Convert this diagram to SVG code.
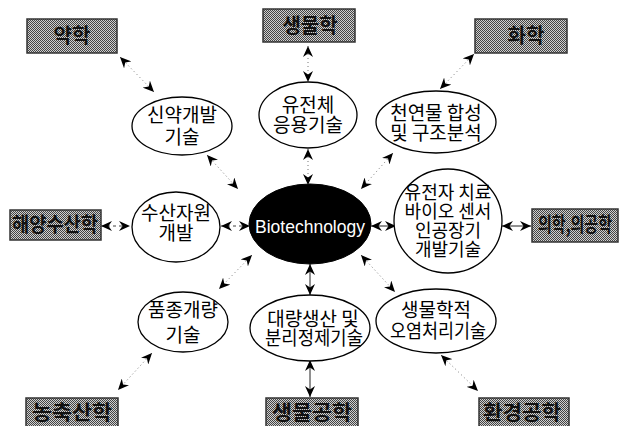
<svg xmlns="http://www.w3.org/2000/svg" width="633" height="426" viewBox="0 0 633 426">
<defs>
  <pattern id="dither" width="2" height="2" patternUnits="userSpaceOnUse">
    <rect width="2" height="2" fill="#d0d0d0"/>
    <rect x="0" y="0" width="1" height="1" fill="#444"/>
    <rect x="1" y="1" width="1" height="1" fill="#444"/>
  </pattern>
  <marker id="ah" viewBox="0 0 11 10" refX="11" refY="5" markerWidth="11" markerHeight="10" markerUnits="userSpaceOnUse" orient="auto-start-reverse">
    <path d="M0,0 L11,5 L0,10 L3.5,5 z" fill="#000"/>
  </marker>
</defs>
<style>
  .box { fill: url(#dither); stroke: #333; stroke-width: 1.5; }
  .btxt { font-family: "Noto Sans CJK KR", "Noto Sans", sans-serif; font-size: 20px; font-weight: 700; fill: #111; text-anchor: middle; }
  .ell { fill: #fff; stroke: #000; stroke-width: 1.3; }
  .etxt { font-family: "Noto Sans CJK KR", "Noto Sans", sans-serif; font-size: 19px; fill: #000; text-anchor: middle; }
  .etxs { font-family: "Noto Sans CJK KR", "Noto Sans", sans-serif; font-size: 18px; fill: #000; text-anchor: middle; }
  .dot { stroke: #777; stroke-width: 1; stroke-dasharray: 1 3; fill: none; marker-start: url(#ah); marker-end: url(#ah); }
  .sol { stroke: #222; stroke-width: 1; fill: none; marker-start: url(#ah); marker-end: url(#ah); }
  .dsh { stroke: #444; stroke-width: 1; stroke-dasharray: 3 3; fill: none; marker-start: url(#ah); marker-end: url(#ah); }
</style>
<rect width="633" height="426" fill="#fff"/>

<g id="connectors">
  <line class="dot" x1="120" y1="57" x2="154" y2="92"/>
  <line class="dot" x1="308" y1="46" x2="308" y2="82"/>
  <line class="dot" x1="474" y1="54" x2="440" y2="89"/>
  <line class="dot" x1="207" y1="155" x2="238" y2="189"/>
  <line class="dot" x1="308" y1="149" x2="308" y2="185"/>
  <line class="dot" x1="393" y1="153" x2="361" y2="189"/>
  <line class="dsh" x1="221" y1="226" x2="250" y2="226"/>
  <line class="sol" x1="371" y1="226" x2="396" y2="226"/>
  <line class="dsh" x1="101" y1="226" x2="130" y2="226"/>
  <line class="sol" x1="502" y1="226" x2="531" y2="226"/>
  <line class="dot" x1="252" y1="255" x2="219" y2="289"/>
  <line class="sol" x1="310" y1="264" x2="310" y2="295"/>
  <line class="dot" x1="361" y1="255" x2="395" y2="292"/>
  <line class="dot" x1="152" y1="353" x2="118" y2="390"/>
  <line class="sol" x1="310" y1="360" x2="310" y2="397"/>
  <line class="dot" x1="441" y1="355" x2="478" y2="391"/>
</g>

<g id="box-yakhak">
  <rect class="box" x="27" y="19" width="90" height="34"/>
  <text class="btxt" x="72" y="43">약학</text>
</g>
<g id="box-saengmulhak">
  <rect class="box" x="263" y="9" width="92" height="33"/>
  <text class="btxt" x="310" y="33">생물학</text>
</g>
<g id="box-hwahak">
  <rect class="box" x="475" y="19" width="92" height="34"/>
  <text class="btxt" x="526" y="43">화학</text>
</g>
<g id="box-haeyang">
  <rect class="box" x="10" y="210" width="91" height="30"/>
  <text class="btxt" x="55" y="232" textLength="86" lengthAdjust="spacingAndGlyphs">해양수산학</text>
</g>
<g id="box-uihak">
  <rect class="box" x="532" y="209" width="86" height="33"/>
  <text class="btxt" x="575" y="232" textLength="74" lengthAdjust="spacingAndGlyphs">의학,의공학</text>
</g>
<g id="box-nongchuk">
  <rect class="box" x="26" y="398" width="92" height="32"/>
  <text class="btxt" x="72" y="420" textLength="80" lengthAdjust="spacingAndGlyphs">농축산학</text>
</g>
<g id="box-saengmulgong">
  <rect class="box" x="266" y="398" width="92" height="32"/>
  <text class="btxt" x="312" y="420" textLength="80" lengthAdjust="spacingAndGlyphs">생물공학</text>
</g>
<g id="box-hwangyeong">
  <rect class="box" x="479" y="398" width="90" height="32"/>
  <text class="btxt" x="522" y="420" textLength="78" lengthAdjust="spacingAndGlyphs">환경공학</text>
</g>

<g id="n-sinyak">
  <ellipse class="ell" cx="182" cy="126" rx="50" ry="29"/>
  <text class="etxt" x="182" y="122">신약개발</text>
  <text class="etxt" x="182" y="144">기술</text>
</g>
<g id="n-yujeonche">
  <ellipse class="ell" cx="308" cy="115" rx="49" ry="33"/>
  <text class="etxt" x="308" y="112">유전체</text>
  <text class="etxt" x="308" y="132">응용기술</text>
</g>
<g id="n-cheonyeon">
  <ellipse class="ell" cx="436" cy="122" rx="60" ry="31"/>
  <text class="etxt" x="436" y="120">천연물 합성</text>
  <text class="etxt" x="436" y="140">및 구조분석</text>
</g>
<g id="n-susan">
  <ellipse class="ell" cx="176" cy="227" rx="44" ry="35"/>
  <text class="etxt" x="176" y="220">수산자원</text>
  <text class="etxt" x="176" y="240">개발</text>
</g>
<g id="n-bio">
  <ellipse cx="310" cy="224" rx="61" ry="40" fill="#000" stroke="#000"/>
  <text x="310" y="233" font-family="Liberation Sans, Arial, sans-serif" font-size="19" fill="#fff" text-anchor="middle" textLength="110" lengthAdjust="spacingAndGlyphs">Biotechnology</text>
</g>
<g id="n-yujeonja">
  <ellipse class="ell" cx="448" cy="221" rx="54" ry="52"/>
  <text class="etxs" x="448" y="199">유전자 치료</text>
  <text class="etxs" x="448" y="218">바이오 센서</text>
  <text class="etxs" x="448" y="237">인공장기</text>
  <text class="etxs" x="448" y="256">개발기술</text>
</g>
<g id="n-pumjong">
  <ellipse class="ell" cx="183" cy="322" rx="45" ry="30"/>
  <text class="etxt" x="183" y="317">품종개량</text>
  <text class="etxt" x="183" y="342">기술</text>
</g>
<g id="n-daeryang">
  <ellipse class="ell" cx="310" cy="328" rx="60" ry="33"/>
  <text class="etxt" x="313" y="326">대량생산 및</text>
  <text class="etxt" x="314" y="345" textLength="98" lengthAdjust="spacingAndGlyphs">분리정제기술</text>
</g>
<g id="n-oyeom">
  <ellipse class="ell" cx="436" cy="321" rx="60" ry="32"/>
  <text class="etxt" x="436" y="317">생물학적</text>
  <text class="etxt" x="438" y="338" textLength="96" lengthAdjust="spacingAndGlyphs">오염처리기술</text>
</g>
</svg>
